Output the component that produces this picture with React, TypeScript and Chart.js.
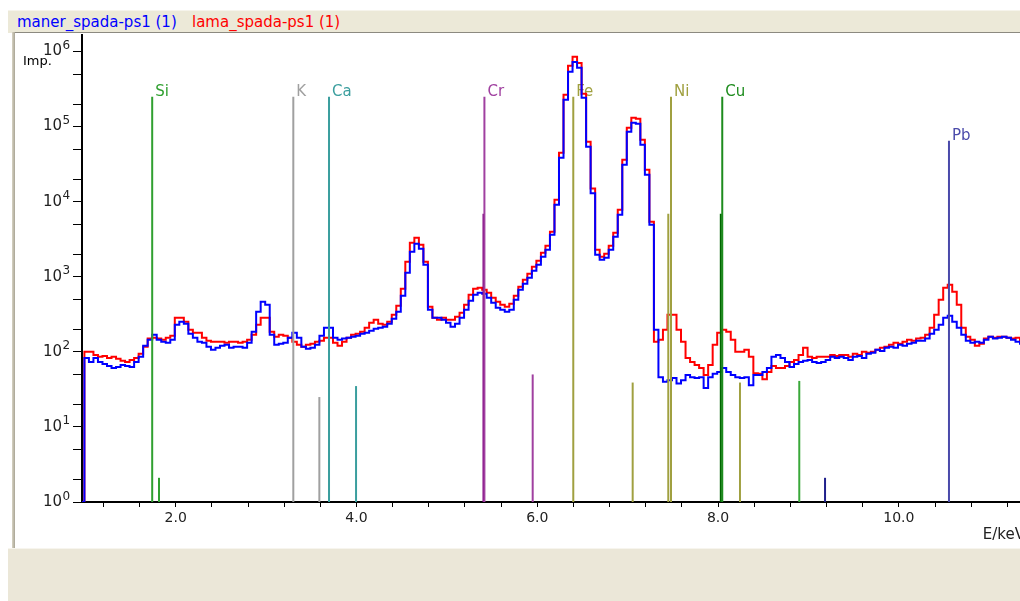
import React, { useEffect, useRef } from "react";
import { Chart, registerables } from "chart.js";
Chart.register(...registerables);

// ---- spectrum binning (keV) ----
const E_START = 0.965;
const E_STEP = 0.05;
const X_MIN = 0.9635;
const X_MAX = 11.395;
const Y_MIN = 1;
const Y_MAX = 1.66e6;

const seriesNames = ["maner_spada-ps1 (1)", "lama_spada-ps1 (1)"];

// counts per channel, blue series
const manerCounts = [
  1, 83, 73, 83, 73, 69, 65, 61, 63, 67,
  65, 63, 73, 86, 121, 145, 169, 145, 136, 132,
  145, 229, 251, 236, 174, 154, 136, 132, 117, 107,
  113, 121, 124, 113, 117, 117, 113, 132, 185, 342,
  464, 423, 169, 124, 128, 132, 154, 180, 154, 117,
  110, 113, 124, 164, 209, 209, 154, 145, 150, 154,
  159, 164, 174, 180, 191, 203, 209, 216, 236, 276,
  342, 558, 1130, 2150, 2750, 2360, 1445, 363, 284, 284,
  267, 244, 216, 236, 284, 363, 479, 575, 611, 593,
  525, 450, 386, 363, 342, 363, 493, 671, 806, 970,
  1200, 1445, 1850, 2290, 3620, 9100, 38400, 227000, 536000, 728000,
  606000, 242000, 53800, 13000, 1960, 1680, 1790, 2290, 3410, 6690,
  31000, 85200, 112400, 109000, 57200, 22800, 4920, 197, 46, 40,
  42, 45, 38, 42, 49, 46, 45, 46, 33, 46,
  51, 54, 61, 54, 49, 46, 45, 46, 36, 49,
  49, 54, 61, 86, 91, 83, 73, 63, 69, 73,
  76, 78, 73, 71, 73, 78, 86, 83, 86, 83,
  78, 86, 88, 83, 94, 97, 107, 103, 113, 117,
  113, 124, 121, 128, 132, 141, 141, 150, 174, 197,
  229, 284, 302, 251, 209, 169, 141, 132, 136, 132,
  145, 159, 150, 154, 159, 154, 145, 136, 128, 132,
];

// counts per channel, red series
const lamaCounts = [
  1, 100, 100, 91, 86, 88, 83, 86, 81, 76,
  73, 78, 83, 94, 117, 150, 154, 150, 145, 154,
  164, 284, 284, 251, 197, 180, 180, 154, 141, 136,
  136, 136, 132, 136, 136, 132, 136, 145, 169, 229,
  284, 284, 185, 159, 169, 164, 154, 136, 124, 117,
  124, 128, 136, 141, 154, 154, 132, 121, 136, 154,
  169, 174, 185, 209, 244, 267, 236, 229, 251, 311,
  411, 692, 1580, 2840, 3300, 2670, 1580, 398, 284, 267,
  284, 267, 267, 293, 331, 423, 575, 692, 713, 671,
  611, 525, 464, 423, 398, 437, 558, 735, 912, 1095,
  1360, 1630, 2090, 2590, 3970, 10600, 44750, 265000, 644000, 849000,
  706000, 273000, 62700, 15000, 2290, 1850, 2020, 2590, 3850, 7800,
  36100, 96400, 131000, 127100, 66600, 26600, 5400, 136, 145, 197,
  311, 311, 197, 136, 83, 73, 67, 61, 49, 67,
  124, 180, 197, 185, 145, 100, 100, 107, 86, 52,
  51, 43, 54, 65, 61, 61, 65, 73, 78, 91,
  113, 86, 83, 86, 86, 86, 91, 88, 91, 91,
  86, 94, 91, 100, 97, 100, 107, 113, 117, 124,
  132, 128, 136, 145, 141, 150, 154, 169, 209, 311,
  493, 713, 782, 630, 423, 209, 159, 145, 121, 128,
  150, 159, 154, 159, 159, 154, 150, 154, 141, 145,
];

// element marker lines
const lineElements = ["Si", "Si", "K", "K", "Ca", "Ca", "Cr", "Cr", "Cr", "Fe", "Fe", "Ni", "Ni", "Ni", "Cu", "Cu", "Cu", "Pb", "Pb"];
const lineEnergies = [1.740, 1.815, 3.301, 3.589, 3.696, 3.995, 5.415, 5.405, 5.949, 6.398, 7.055, 7.479, 7.449, 8.242, 8.046, 8.030, 8.898, 10.554, 9.183];
const lineHeights = [249000, 2.1, 249000, 25, 249000, 35, 249000, 6900, 50, 249000, 39, 249000, 6900, 39, 249000, 6900, 41, 64700, 2.1];

// styles
const lineColors = ["#30a030", "#30a030", "#a0a0a0", "#a0a0a0", "#3a9e9e", "#3a9e9e", "#a040a0", "#800080", "#a040a0", "#a0a040", "#a0a040", "#a0a040", "#a0a040", "#a0a040", "#1e8c1e", "#006400", "#3aa83a", "#4a4aaa", "#20208c"];
const seriesColors = ["#0000ff", "#ff0000"];

const xTickValues = [1.2, 1.6, 2.0, 2.4, 2.8, 3.2, 3.6, 4.0, 4.4, 4.8, 5.2, 5.6, 6.0, 6.4, 6.8, 7.2, 7.6, 8.0, 8.4, 8.8, 9.2, 9.6, 10.0, 10.4, 10.8, 11.2];
const yTickValues = [1, 2, 5, 10, 20, 50, 100, 200, 500, 1e3, 2e3, 5e3, 1e4, 2e4, 5e4, 1e5, 2e5, 5e5, 1e6];
const yDecades = [0, 1, 2, 3, 4, 5, 6];
const FONT = '"DejaVu Sans", sans-serif';

const decorPlugin = {
  id: "decor",
  beforeDatasetsDraw(chart: any) {
    const { ctx, scales } = chart;
    const x = scales.x, y = scales.y;
    ctx.save();
    ctx.font = `15px ${FONT}`;
    ctx.textAlign = "left";
    ctx.textBaseline = "alphabetic";
    const seen = new Set<string>();
    lineElements.forEach((name, i) => {
      if (seen.has(name)) return;
      seen.add(name);
      ctx.fillStyle = lineColors[i];
      ctx.fillText(name, x.getPixelForValue(lineEnergies[i]) + 3, y.getPixelForValue(lineHeights[i]) - 1);
    });
    ctx.restore();
  },
  afterDraw(chart: any) {
    const { ctx, scales } = chart;
    const y = scales.y;
    const axisX = y.right;
    ctx.save();
    ctx.fillStyle = "#222";
    yDecades.forEach((d) => {
      const py = y.getPixelForValue(Math.pow(10, d));
      const baseRight = axisX - 20;
      ctx.font = `15px ${FONT}`;
      ctx.textAlign = "right";
      ctx.textBaseline = "middle";
      ctx.fillText("10", baseRight, py);
      ctx.font = `12px ${FONT}`;
      ctx.textAlign = "left";
      ctx.textBaseline = "alphabetic";
      ctx.fillText(String(d), baseRight + 0.5, py - 2.5);
    });
    ctx.font = `13px ${FONT}`;
    ctx.textAlign = "left";
    ctx.textBaseline = "middle";
    ctx.fillStyle = "#000";
    ctx.fillText("Imp.", 8, y.getPixelForValue(1e6) + 10);
    ctx.restore();
  },
};

export default function App() {
  const ref = useRef<HTMLCanvasElement>(null);
  useEffect(() => {
    const lineSets = lineEnergies.map((e, i) => ({
      label: lineElements[i],
      data: [
        { x: e, y: Y_MIN },
        { x: e, y: lineHeights[i] },
      ],
      borderColor: lineColors[i],
      borderWidth: 2,
      pointRadius: 0,
      fill: false,
    }));
    const spectrumSets = [manerCounts, lamaCounts].map((arr, s) => ({
      label: seriesNames[s],
      data: arr.map((v, i) => ({ x: E_START + i * E_STEP, y: v })),
      borderColor: seriesColors[s],
      borderWidth: 2,
      pointRadius: 0,
      stepped: "middle" as const,
      fill: false,
    }));
    const chart = new Chart(ref.current!, {
      type: "line",
      data: { datasets: [...lineSets, ...spectrumSets] as any },
      options: {
        responsive: false,
        animation: false,
        devicePixelRatio: 1,
        layout: { padding: { top: 2, right: 5, left: 0, bottom: 0 } },
        plugins: { legend: { display: false }, tooltip: { enabled: false } },
        scales: {
          x: {
            type: "linear",
            min: X_MIN,
            max: X_MAX,
            afterBuildTicks: (s: any) => {
              s.ticks = xTickValues.map((v) => ({ value: v }));
            },
            afterFit: (s: any) => {
              s.height = 46;
            },
            ticks: {
              autoSkip: false,
              maxRotation: 0,
              padding: 3,
              color: "#222",
              font: { family: FONT, size: 14 },
              callback: (v: any) => {
                const n = Number(v);
                return Math.abs(n / 2 - Math.round(n / 2)) < 1e-6 ? n.toFixed(1) : "";
              },
            },
            grid: { drawOnChartArea: false, tickLength: 5, color: "#000" },
            border: { color: "#000", width: 2 },
            title: {
              display: true,
              text: "E/keV",
              align: "end",
              color: "#222",
              font: { family: FONT, size: 15 },
              padding: { top: 0, bottom: 4 },
            },
          },
          y: {
            type: "logarithmic",
            min: Y_MIN,
            max: Y_MAX,
            afterBuildTicks: (s: any) => {
              s.ticks = yTickValues.map((v) => ({ value: v }));
            },
            afterFit: (s: any) => {
              s.width = 67;
            },
            ticks: { display: false },
            grid: { drawOnChartArea: false, tickLength: 9, color: "#000" },
            border: { color: "#000", width: 2 },
          },
        },
      } as any,
      plugins: [decorPlugin],
    });
    return () => chart.destroy();
  }, []);

  return (
    <div
      style={{
        position: "fixed",
        left: 0,
        top: 0,
        width: 1020,
        height: 601,
        overflow: "hidden",
        background: "#ffffff",
        fontFamily: FONT,
      }}
    >
      <div style={{ position: "absolute", left: 8, top: 10, width: 1012, height: 22, background: "#ECE9D8", borderTop: "1px solid #f6f4ec" }} />
      <span style={{ position: "absolute", left: 17, top: 13, fontSize: 15, lineHeight: "18px", color: seriesColors[0], whiteSpace: "nowrap" }}>
        {seriesNames[0]}
      </span>
      <span style={{ position: "absolute", left: 192, top: 13, fontSize: 15, lineHeight: "18px", color: seriesColors[1], whiteSpace: "nowrap" }}>
        {seriesNames[1]}
      </span>
      <div style={{ position: "absolute", left: 12, top: 32, width: 1008, height: 1, background: "#8c8a80" }} />
      <div style={{ position: "absolute", left: 12, top: 32, width: 3, height: 516, background: "linear-gradient(to right, #d8d4c4, #a8a494)" }} />
      <canvas ref={ref} width={1015} height={515} style={{ position: "absolute", left: 15, top: 33 }} />
      <div style={{ position: "absolute", left: 8, top: 548, width: 1012, height: 53, background: "#EBE7D8", borderTop: "1px solid #f7f5ee" }} />
    </div>
  );
}
